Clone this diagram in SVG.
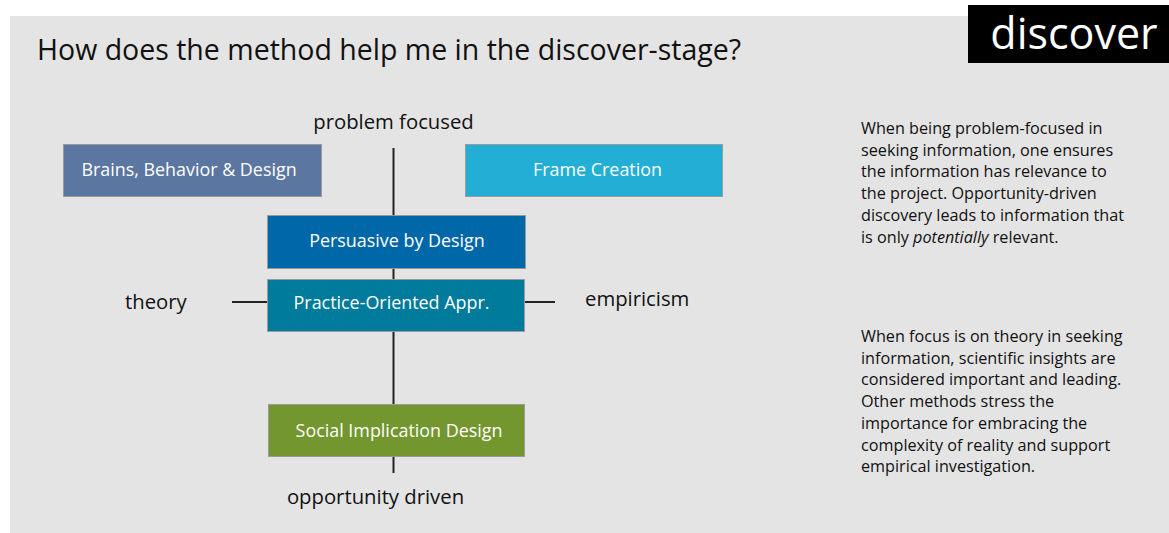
<svg xmlns="http://www.w3.org/2000/svg" width="1169" height="533" viewBox="0 0 1169 533">
<style>
text{font-family:"Open Sans","Liberation Sans",sans-serif}
.title{font-size:28.5px;fill:#111}
.axis{font-size:20.3px;fill:#111}
.box{stroke:#9a9a9a;stroke-width:1}
.bt{font-size:17.9px;fill:#fff;text-anchor:middle}
.para{font-size:16.2px;fill:#111}
.line{stroke:#222;stroke-width:2;fill:none}
</style>
<rect x="0" y="0" width="1169" height="533" fill="#fff"/>
<rect x="10" y="16" width="1159" height="517" fill="#e4e4e4"/>
<rect x="968" y="5" width="201" height="58" fill="#000"/>
<text x="1074" y="49" fill="#fff" text-anchor="middle" style="font-size:43px">discover</text>
<text class="title" x="37" y="60">How does the method help me in the discover-stage?</text>
<g id="connectors">
<line class="line" x1="393.5" y1="148" x2="393.5" y2="473"/>
<line class="line" x1="232" y1="302" x2="267" y2="302"/>
<line class="line" x1="525" y1="302" x2="555" y2="302"/>
</g>
<g id="axis-labels">
<text class="axis" x="393.5" y="129" text-anchor="middle">problem focused</text>
<text class="axis" x="125" y="309">theory</text>
<text class="axis" x="585" y="306">empiricism</text>
<text class="axis" x="375.5" y="504" text-anchor="middle">opportunity driven</text>
</g>
<g id="brains">
<rect class="box" x="63.5" y="144.5" width="258" height="52" fill="#5b76a1"/>
<text class="bt" x="189" y="176">Brains, Behavior &amp; Design</text>
</g>
<g id="frame">
<rect class="box" x="465.5" y="144.5" width="257" height="52" fill="#23aed6"/>
<text class="bt" x="597.5" y="176">Frame Creation</text>
</g>
<g id="persuasive">
<rect class="box" x="267.5" y="215.5" width="258" height="53" fill="#0067a8"/>
<text class="bt" x="397" y="247">Persuasive by Design</text>
</g>
<g id="practice">
<rect class="box" x="267.5" y="279.5" width="257" height="52" fill="#007b9c"/>
<text class="bt" x="391.5" y="309">Practice-Oriented Appr.</text>
</g>
<g id="social">
<rect class="box" x="268.5" y="404.5" width="256" height="52" fill="#73962e"/>
<text class="bt" x="399" y="437">Social Implication Design</text>
</g>
<g id="para1">
<text class="para" x="861" y="134">When being problem-focused in</text>
<text class="para" x="861" y="156">seeking information, one ensures</text>
<text class="para" x="861" y="177">the information has relevance to</text>
<text class="para" x="861" y="199">the project. Opportunity-driven</text>
<text class="para" x="861" y="221">discovery leads to information that</text>
<text class="para" x="861" y="243">is only <tspan font-style="italic">potentially</tspan> relevant.</text>
</g>
<g id="para2">
<text class="para" x="861" y="342">When focus is on theory in seeking</text>
<text class="para" x="861" y="364">information, scientific insights are</text>
<text class="para" x="861" y="385">considered important and leading.</text>
<text class="para" x="861" y="407">Other methods stress the</text>
<text class="para" x="861" y="429">importance for embracing the</text>
<text class="para" x="861" y="451">complexity of reality and support</text>
<text class="para" x="861" y="472">empirical investigation.</text>
</g>
</svg>
